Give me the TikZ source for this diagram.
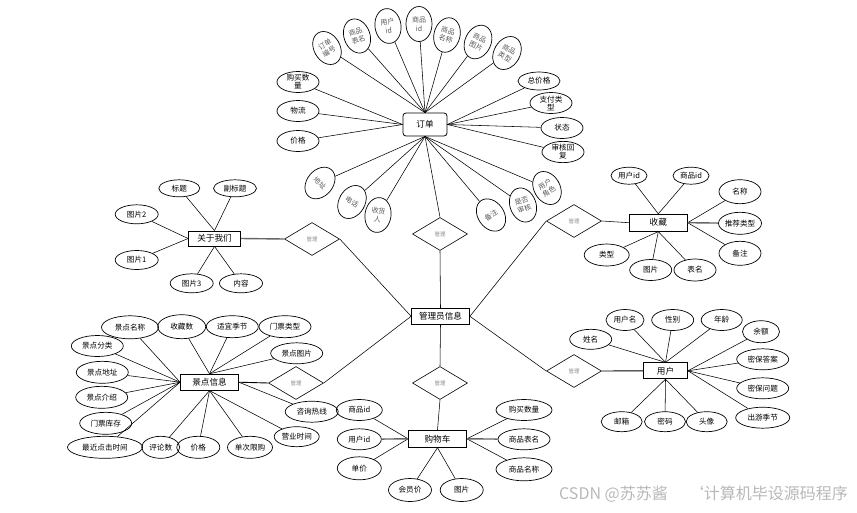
\documentclass[tikz,border=0pt]{standalone}
\usepackage{fontspec}
\setmainfont{Noto Sans CJK SC}
\usetikzlibrary{shapes.geometric}
\begin{document}
\begin{tikzpicture}[x=1pt,y=-1pt,
  ent/.style={draw, line width=0.8pt, minimum width=58pt, minimum height=16pt, inner sep=0pt, font=\fontsize{8.6}{9}\selectfont},
  att/.style={ellipse, draw, line width=0.7pt, inner sep=0pt, align=center, font=\fontsize{7.6}{8}\selectfont, minimum width=42pt, minimum height=21pt},
  fan/.style={ellipse, draw, line width=0.7pt, inner sep=0pt, align=center, text=black!65, font=\fontsize{7}{8.5}\selectfont, minimum width=26pt, minimum height=35pt},
  rel/.style={diamond, draw, line width=0.6pt, inner sep=0pt, minimum width=55pt, minimum height=33pt, text=black!45, font=\fontsize{5.5}{6}\selectfont},
  ln/.style={line width=0.55pt},
  tk/.style={line width=1.4pt, black!60},
  md/.style={line width=0.9pt}
]
\path[use as bounding box] (0,0) rectangle (857,512);

% ---------- entities ----------
\node[ent, rounded corners=3pt, minimum width=44pt, minimum height=23pt] (o) at (425,124.5) {订单};
\node[ent] (adm) at (440.5,316.3) {管理员信息};
\node[ent, minimum width=52pt, minimum height=15pt] (about) at (214.5,238.5) {关于我们};
\node[ent, minimum height=17pt] (fav) at (658.3,222.7) {收藏};
\node[ent, minimum width=44pt] (user) at (665.5,370.8) {用户};
\node[ent] (sc) at (209.5,382.2) {景点信息};
\node[ent, minimum height=17pt] (cart) at (437.5,438.8) {购物车};

% ---------- relations ----------
\node[rel] (d1) at (440,234) {管理};
\node[rel] (d2) at (312,239) {管理};
\node[rel] (d3) at (574,221) {管理};
\node[rel] (d4) at (296,383) {管理};
\node[rel] (d5) at (574,371) {管理};
\node[rel] (d6) at (440,383) {管理};

% ---------- order attributes ----------
\node[fan, rotate=30] (f1) at (327,48) {订单\\编号};
\node[fan, rotate=20] (f2) at (357,36) {商品\\表名};
\node[fan, rotate=8] (f3) at (388,26) {用户\\id};
\node[fan] (f4) at (419,24) {商品\\id};
\node[fan, rotate=-15] (f5) at (447,35) {商品\\名称};
\node[fan, rotate=-25] (f6) at (478,42) {商品\\图片};
\node[fan, rotate=-30] (f7) at (507,53) {商品\\类型};

\node[att] (a1) at (298,82) {购买数\\量};
\node[att] (a2) at (298,111) {物流};
\node[att] (a3) at (298,141) {价格};
\node[att, minimum height=18pt] (a4) at (539,81) {总价格};
\node[att] (a5) at (551,103) {支付类\\型};
\node[att] (a6) at (562,128) {状态};
\node[att] (a7) at (563,152) {审核回\\复};

\node[fan, rotate=-40] (b1) at (320,183) {地址};
\node[fan, rotate=-30] (b2) at (352,202) {电话};
\node[fan, rotate=-8] (b3) at (378,215) {收货\\人};
\node[fan, rotate=35] (b4) at (491,215) {备注};
\node[fan, rotate=20] (b5) at (523,205) {是否\\审核};
\node[fan, rotate=30] (b6) at (547,188) {用户\\角色};

% ---------- about attributes ----------
\node[att, minimum width=41pt, minimum height=17pt] (ab1) at (179.3,188.3) {标题};
\node[att, minimum width=43pt, minimum height=17pt] (ab2) at (235,188.3) {副标题};
\node[att, minimum width=43pt, minimum height=19pt] (ab3) at (136.7,214.3) {图片2};
\node[att, minimum width=43pt, minimum height=19pt] (ab4) at (136.7,260) {图片1};
\node[att, minimum width=43pt, minimum height=19pt] (ab5) at (191.7,283.3) {图片3};
\node[att, minimum width=43pt, minimum height=19pt] (ab6) at (241,283.3) {内容};

% ---------- favourite attributes ----------
\node[att, minimum width=36pt, minimum height=17pt] (fa1) at (629,175.7) {用户id};
\node[att, minimum width=36pt, minimum height=17pt] (fa2) at (691,175.7) {商品id};
\node[att, minimum height=24pt] (fa3) at (740,191.7) {名称};
\node[att, minimum height=22pt] (fa4) at (740,223.3) {推荐类型};
\node[att, minimum height=24pt] (fa5) at (740,253.3) {备注};
\node[att, minimum width=45pt, minimum height=22pt] (fa6) at (606.7,255) {类型};
\node[att] (fa7) at (650.7,270) {图片};
\node[att, minimum height=22pt] (fa8) at (695,270) {表名};

% ---------- user attributes ----------
\node[att, minimum height=20pt] (u1) at (590.7,339.3) {姓名};
\node[att, minimum width=38pt] (u2) at (625,320) {用户名};
\node[att] (u3) at (672.7,320) {性别};
\node[att, minimum width=41pt] (u4) at (721.7,320) {年龄};
\node[att, minimum width=37pt, minimum height=22pt] (u5) at (761,331.7) {余额};
\node[att, minimum width=52pt] (u6) at (762.7,359.3) {密保答案};
\node[att, minimum width=52pt] (u7) at (762.7,388.3) {密保问题};
\node[att, minimum width=54pt] (u8) at (762.7,417.7) {出游季节};
\node[att, minimum width=41pt, minimum height=20pt] (u9) at (621.7,421.7) {邮箱};
\node[att, minimum width=41pt, minimum height=20pt] (u10) at (665,421.7) {密码};
\node[att, minimum width=41pt, minimum height=20pt] (u11) at (706.7,421.7) {头像};

% ---------- scenic attributes ----------
\node[att, minimum width=57pt, minimum height=23pt] (s1) at (130,327.3) {景点名称};
\node[att, minimum width=48pt, minimum height=24pt] (s2) at (181.7,326.7) {收藏数};
\node[att, minimum width=52pt, minimum height=22pt] (s3) at (232.3,326.7) {适宜季节};
\node[att, minimum width=52pt, minimum height=22pt] (s4) at (285,326.7) {门票类型};
\node[att, minimum width=52pt] (s5) at (296.7,353.3) {景点图片};
\node[att, minimum width=52pt] (s6) at (97.3,346) {景点分类};
\node[att, minimum width=52pt, minimum height=22pt] (s7) at (102.3,372.3) {景点地址};
\node[att, minimum width=52pt, minimum height=22pt] (s8) at (101.7,397.3) {景点介绍};
\node[att, minimum width=52pt, minimum height=22pt] (s9) at (105.7,423.3) {门票库存};
\node[att, minimum width=75pt, minimum height=22pt] (s10) at (105,447.3) {最近点击时间};
\node[att, minimum width=38pt, minimum height=22pt] (s11) at (160.7,447.3) {评论数};
\node[att, minimum width=43pt, minimum height=22pt] (s12) at (198.3,447.3) {价格};
\node[att, minimum width=45pt, minimum height=22pt] (s13) at (250,447.3) {单次限购};
\node[att, minimum width=45pt, minimum height=20pt] (s14) at (296.7,436.7) {营业时间};
\node[att, minimum width=53pt] (s15) at (311.7,411.7) {咨询热线};

% ---------- cart attributes ----------
\node[att, minimum width=46pt] (c1) at (359.3,410) {商品id};
\node[att, minimum width=44pt] (c2) at (359.3,439.3) {用户id};
\node[att, minimum width=44pt, minimum height=23pt] (c3) at (359.3,468.3) {单价};
\node[att, minimum width=43pt, minimum height=23pt] (c4) at (410,490) {会员价};
\node[att, minimum width=43pt, minimum height=23pt] (c5) at (461.7,490) {图片};
\node[att, minimum width=56pt] (c6) at (524,410) {购买数量};
\node[att, minimum width=52pt] (c7) at (524,439.3) {商品表名};
\node[att, minimum width=56pt, minimum height=23pt] (c8) at (524,469.3) {商品名称};

% ---------- connectors ----------
\foreach \n in {f1,f2,f3,f4,f5,f6,f7} \draw[ln] (\n) -- (o.north);
\foreach \n in {a1,a2,a3} \draw[ln] (\n) -- (o.west);
\foreach \n in {a4,a5,a6,a7} \draw[ln] (\n) -- (o.east);
\foreach \n in {b1,b2,b3,b4,b5,b6} \draw[ln] (\n) -- (o.south);
\draw[ln] (o.south) -- (d1.north);
\draw[ln] (d1.south) -- (adm.north);
\draw[ln] (adm.west) -- (d2.east);
\draw[ln] (adm.west) -- (d4.east);
\draw[ln] (adm.east) -- (d3.west);
\draw[ln] (adm.east) -- (d5.west);
\draw[ln] (adm.south) -- (d6.north);
\draw[ln] (d6.south) -- (cart.north);
\draw[tk] (about.east) -- (d2.west);
\draw[ln] (d3.east) -- (fav.west);
\draw[md] (d5.east) -- (user.west);
\draw[md] (d4.west) -- (sc.east);

\foreach \n in {ab1,ab2} \draw[ln] (\n) -- (about.north);
\foreach \n in {ab3,ab4} \draw[ln] (\n) -- (about.west);
\foreach \n in {ab5,ab6} \draw[ln] (\n) -- (about.south);

\foreach \n in {fa1,fa2} \draw[ln] (\n) -- (fav.north);
\foreach \n in {fa3,fa5} \draw[ln] (\n) -- (fav.east);
\draw[tk] (fa4) -- (fav.east);
\foreach \n in {fa6,fa7,fa8} \draw[ln] (\n) -- (fav.south);

\foreach \n in {u1,u2,u3,u4} \draw[ln] (\n) -- (user.north);
\foreach \n in {u5,u6,u7,u8} \draw[ln] (\n) -- (user.east);
\foreach \n in {u9,u10,u11} \draw[ln] (\n) -- (user.south);

\foreach \n in {s1,s6,s7,s8,s9,s10} \draw[ln] (\n) -- (sc.west);
\foreach \n in {s2,s3,s4,s5} \draw[ln] (\n) -- (sc.north);
\foreach \n in {s11,s12,s13,s14} \draw[ln] (\n) -- (sc.south);
\draw[ln] (s15) -- (sc.east);

\foreach \n in {c1,c3} \draw[ln] (\n) -- (cart.west);
\draw[tk] (c2) -- (cart.west);
\foreach \n in {c4,c5} \draw[ln] (\n) -- (cart.south);
\foreach \n in {c6,c8} \draw[ln] (\n) -- (cart.east);
\draw[tk] (c7) -- (cart.east);

% ---------- watermark ----------
\node[anchor=west, inner sep=0pt, text=black!28, font=\fontsize{16}{17}\selectfont] (wm) at (559,494) {CSDN @苏苏酱\hspace{20pt}\symbol{96}计算机毕设源码程序};
\end{tikzpicture}
\end{document}
